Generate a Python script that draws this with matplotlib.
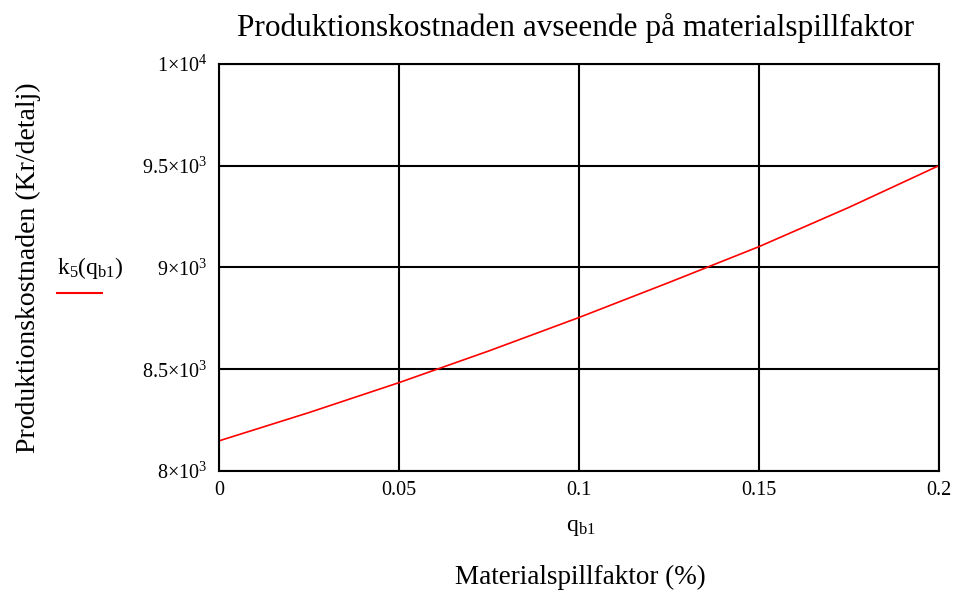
import numpy as np
import matplotlib
matplotlib.use("Agg")
from matplotlib import pyplot as plt

# values
q_b1 = [0.0, 0.025, 0.05, 0.075, 0.1, 0.125, 0.15, 0.175, 0.2]
k5 = [8148, 8287, 8434, 8590, 8754, 8926, 9102, 9295, 9500]

x_ticks = [0, 0.05, 0.1, 0.15, 0.2]
x_ticklabels = ["0", "0.05", "0.1", "0.15", "0.2"]
y_ticks = [8000, 8500, 9000, 9500, 10000]
y_ticklabels = [r"8$\times$10$^3$", r"8.5$\times$10$^3$", r"9$\times$10$^3$",
                r"9.5$\times$10$^3$", r"1$\times$10$^4$"]

plt.rcParams['font.family'] = ['Liberation Serif', 'DejaVu Serif']
plt.rcParams['mathtext.fontset'] = 'custom'
plt.rcParams['mathtext.rm'] = 'Liberation Serif'
plt.rcParams['mathtext.it'] = 'Liberation Serif'
plt.rcParams['mathtext.bf'] = 'Liberation Serif'

fig = plt.figure(figsize=(9.6, 5.97), dpi=100)
ax = fig.add_axes([0.228, 0.211, 0.75, 0.682])

ax.plot(q_b1, k5, color='red', lw=1.2)
ax.set_xlim(0, 0.2)
ax.set_ylim(8000, 10000)
ax.set_xticks(x_ticks)
ax.set_xticklabels(x_ticklabels)
ax.set_yticks(y_ticks)
ax.set_yticklabels(y_ticklabels)
ax.tick_params(length=0, labelsize=14.5, pad=7)
ax.tick_params(axis='y', pad=8)
ax.grid(True, color='black', lw=1.5)
for s in ax.spines.values():
	s.set_linewidth(1.5)
	s.set_color('black')

fig.text(0.6, 0.953, "Produktionskostnaden avseende på materialspillfaktor",
         ha='center', va='center', fontsize=22.5)
fig.text(0.605, 0.117, r"q$_{\mathregular{b1}}$", ha='center', va='center', fontsize=17)
fig.text(0.605, 0.032, "Materialspillfaktor (%)", ha='center', va='center', fontsize=19.5)
fig.text(0.03, 0.551, "Produktionskostnaden (Kr/detalj)", rotation=90,
         ha='center', va='center', fontsize=20)
fig.text(0.059, 0.551, r"k$_5$(q$_{\mathregular{b1}}$)", ha='left', va='center', fontsize=17)
fig.add_artist(plt.Line2D([0.059, 0.106], [0.509, 0.509], color='red', lw=1.5))

fig.savefig("out.png", dpi=100)
